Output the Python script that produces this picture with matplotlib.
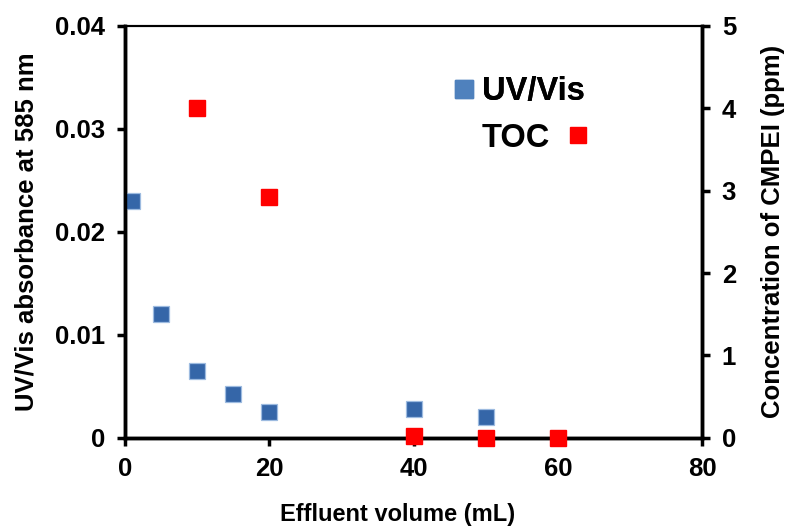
import matplotlib.pyplot as plt
from matplotlib.lines import Line2D

plt.rcParams['font.family'] = ['Liberation Sans', 'DejaVu Sans']
plt.rcParams['font.weight'] = 'bold'

# UV/Vis absorbance (left axis)
uv_x = [1, 5, 10, 15, 20, 40, 50]
uv_y = [0.023, 0.012, 0.0065, 0.0043, 0.0025, 0.0028, 0.002]

# TOC concentration (right axis)
toc_x = [10, 20, 40, 50, 60]
toc_y = [4.0, 2.92, 0.02, 0.0, 0.0]

left_ticks = [0, 0.01, 0.02, 0.03, 0.04]
left_labels = ['0', '0.01', '0.02', '0.03', '0.04']
right_ticks = [0, 1, 2, 3, 4, 5]
x_ticks = [0, 20, 40, 60, 80]

blue = '#3566A8'
red = '#FF0000'

fig = plt.figure(figsize=(7.9, 5.3), dpi=100)
ax = fig.add_axes([0.158, 0.174, 0.731, 0.777])
ax2 = ax.twinx()

ax.plot(uv_x, uv_y, 's', color=blue, markeredgecolor='#9DBBE0', markeredgewidth=0.9,
        markersize=11.5, linestyle='none', clip_on=False, zorder=3)
ax2.plot(toc_x, toc_y, 's', color=red, markeredgecolor=red, markersize=11.5,
         linestyle='none', clip_on=False, zorder=4)

ax.set_xlim(0, 80)
ax.set_ylim(0, 0.04)
ax2.set_ylim(0, 5)
ax.set_xticks(x_ticks)
ax.set_yticks(left_ticks)
ax.set_yticklabels(left_labels)
ax2.set_yticks(right_ticks)

for a in (ax, ax2):
    for s in ['left', 'right', 'bottom']:
        a.spines[s].set_linewidth(2.5)
    a.spines['top'].set_linewidth(1.5)
    a.tick_params(direction='out', length=6, width=2.5, labelsize=18.5, pad=8)

ax.set_xlabel('Effluent volume (mL)', fontsize=17, fontweight='bold')
ax.xaxis.set_label_coords(0.473, -0.158)
ax.set_ylabel('UV/Vis absorbance at 585 nm', fontsize=18.5, fontweight='bold', labelpad=12)
ax2.set_ylabel('Concentration of CMPEI (ppm)', fontsize=18.5, fontweight='bold', labelpad=18)

h1 = Line2D([], [], marker='s', color='#4F81BD', linestyle='none', markersize=12.5)
h2 = Line2D([], [], marker='s', color=red, linestyle='none', markersize=12)
leg1 = ax.legend([h1], ['UV/Vis'], loc='center left', bbox_to_anchor=(0.568, 0.84),
                 frameon=False, fontsize=23.5, handlelength=0.7, handletextpad=0.2,
                 borderpad=0, borderaxespad=0)
ax.add_artist(leg1)
ax2.legend([h2], ['TOC'], loc='center left', bbox_to_anchor=(0.618, 0.727),
           frameon=False, fontsize=23.5, handlelength=0.7, handletextpad=0.5,
           borderpad=0, borderaxespad=0, markerfirst=False)

fig.savefig('out.png', dpi=100)
